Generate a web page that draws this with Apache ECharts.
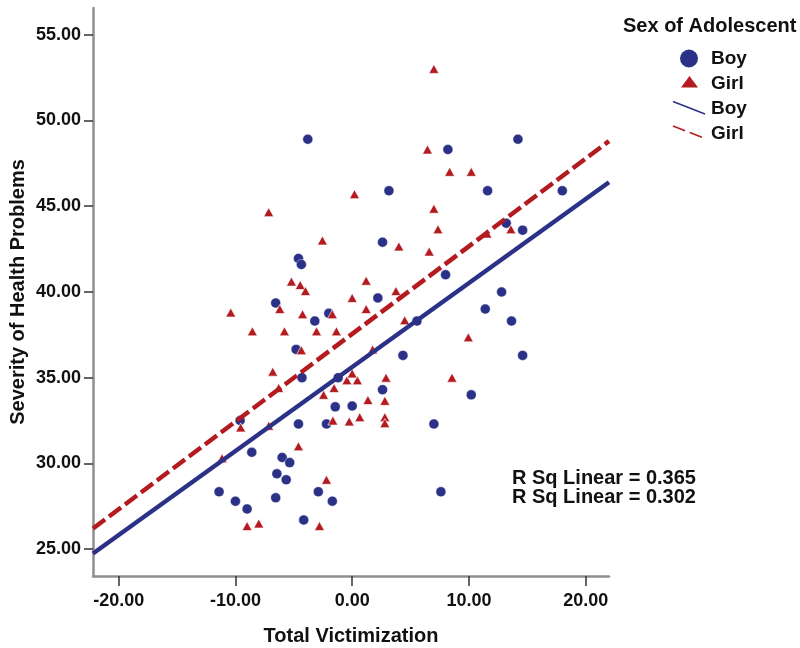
<!DOCTYPE html>
<html>
<head>
<meta charset="utf-8">
<script src="https://cdn.jsdelivr.net/npm/echarts@6/dist/echarts.min.js"></script>
<style>
html,body{margin:0;padding:0;background:#fff;}
#chart{width:800px;height:648px;}
</style>
</head>
<body>
<div id="chart"></div>
<script>
// ---- data ----
const legendTitle = 'Sex of Adolescent';
const groupNames = ['Boy', 'Girl'];
const xAxisTitle = 'Total Victimization';
const yAxisTitle = 'Severity of Health Problems';
const xTicks = [-20, -10, 0, 10, 20];
const yTicks = [25, 30, 35, 40, 45, 50, 55];
const xRange = [-22.2, 22.0];
const yRange = [23.44, 56.55];

const boyX = [-3.8, 3.15, 2.6, -4.6, -4.35, 14.2, 8.2, 11.6, 18.0, 13.2, 14.6, 8.0, 12.8, 2.2, -6.55, -3.2,
  -2.0, 11.4, 13.65, 5.55, 4.35, 14.6, -4.8, -4.3, -1.2, 2.6, 10.2, -1.45, 0.0, -4.6, -2.2, -9.6, 7.0,
  -8.6, -6.0, -5.35, -6.45, -5.65, -11.4, -2.9, 7.6, -10.0, -6.55, -1.7, -9.0, -4.15];
const boyY = [48.9, 45.9, 42.9, 41.95, 41.6, 48.9, 48.3, 45.9, 45.9, 44.0, 43.6, 41.0, 40.0, 39.65, 39.35, 38.3,
  38.75, 39.0, 38.3, 38.3, 36.3, 36.3, 36.65, 35.0, 35.0, 34.3, 34.0, 33.3, 33.35, 32.3, 32.3, 32.5, 32.3,
  30.65, 30.35, 30.05, 29.4, 29.05, 28.35, 28.35, 28.35, 27.8, 28.0, 27.8, 27.35, 26.7];

const girlX = [7.0, 6.45, 8.35, 10.2, 0.2, 7.0, -7.15, 7.35, 13.6, 11.55, -2.55, 4.0, 6.6, 1.2, -5.2, -4.45,
  -4.0, 3.75, 0.0, -6.2, 1.2, -10.4, -4.25, -1.7, 4.5, -8.55, -5.8, -3.05, -1.35, 9.95, -4.35, 1.75, -6.8,
  -0.45, 0.45, 0.0, 2.9, 8.55, -1.55, -6.3, -2.45, 1.35, 2.8, 0.65, 2.8, 2.8, -0.25, -1.65, -9.55, -7.15,
  -4.6, -11.15, -2.2, -9.0, -8.0, -2.8];
const girlY = [53.0, 48.3, 47.0, 47.0, 45.7, 44.85, 44.65, 43.65, 43.65, 43.4, 43.0, 42.65, 42.35, 40.65, 40.6, 40.4,
  40.05, 40.05, 39.65, 39.0, 39.0, 38.8, 38.7, 38.7, 38.35, 37.7, 37.7, 37.7, 37.7, 37.35, 36.6, 36.65, 35.35,
  34.85, 34.85, 35.25, 35.0, 35.0, 34.4, 34.4, 34.0, 33.7, 33.65, 32.7, 32.7, 32.35, 32.45, 32.5, 32.1, 32.2,
  31.0, 30.3, 29.05, 26.35, 26.5, 26.35];

// fit lines (intercept, slope)
const boyFit = [35.62, 0.4896];
const girlFit = [37.55, 0.511];
const rSqLabels = ['R Sq Linear = 0.365', 'R Sq Linear = 0.302'];

// ---- styles ----
const BLUE = '#2b3187';
const RED = '#b31b20';
const FONT = "'Liberation Sans', Arial, Helvetica, sans-serif";

const zip = (xs, ys) => xs.map((x, i) => [x, ys[i]]);
const fitPts = (f) => xRange.map(x => [x, f[0] + f[1] * x]);

const chart = echarts.init(document.getElementById('chart'), null, {renderer: 'canvas'});

const axisCommon = {
  axisLine: {show: true, onZero: false, lineStyle: {color: '#8f8f8f', width: 2.5}},
  splitLine: {show: false},
  nameMoveOverlap: false,
  nameTextStyle: {fontFamily: FONT, fontWeight: 'bold', fontSize: 20, color: '#111'}
};

chart.setOption({
  backgroundColor: '#fff',
  animation: false,
  grid: {left: 93, right: 191, top: 8, bottom: 72, containLabel: false, outerBoundsMode: 'none'},
  xAxis: Object.assign({}, axisCommon, {
    type: 'value', min: xRange[0], max: xRange[1],
    name: xAxisTitle, nameLocation: 'middle', nameGap: 50,
    axisTick: {show: true, inside: false, length: 10, customValues: xTicks, lineStyle: {color: '#333', width: 1.5}},
    axisLabel: {customValues: xTicks, margin: 16, fontFamily: FONT, fontWeight: 'bold', fontSize: 18, color: '#111',
      formatter: v => v.toFixed(2)}
  }),
  yAxis: Object.assign({}, axisCommon, {
    type: 'value', min: yRange[0], max: yRange[1],
    name: yAxisTitle, nameLocation: 'middle', nameGap: 65, nameRotate: 90,
    axisTick: {show: true, inside: false, length: 9, customValues: yTicks, lineStyle: {color: '#333', width: 1.5}},
    axisLabel: {customValues: yTicks, margin: 12, fontFamily: FONT, fontWeight: 'bold', fontSize: 18, color: '#111',
      formatter: v => v.toFixed(2)}
  }),
  series: [
    {
      name: groupNames[0], type: 'scatter', data: zip(boyX, boyY),
      symbol: 'circle', symbolSize: 10,
      itemStyle: {color: BLUE, borderColor: 'rgba(255,255,255,0.7)', borderWidth: 0.6, opacity: 1},
      z: 2
    },
    {
      name: groupNames[1], type: 'scatter', data: zip(girlX, girlY),
      symbol: 'triangle', symbolSize: [10, 9],
      itemStyle: {color: RED, borderColor: 'rgba(255,255,255,0.8)', borderWidth: 0.8, opacity: 1},
      z: 2
    },
    {
      name: groupNames[0] + ' fit', type: 'line', data: fitPts(boyFit), showSymbol: false, symbol: 'none',
      lineStyle: {color: BLUE, width: 4.5, type: 'solid'}, z: 3, silent: true, clip: true
    },
    {
      name: groupNames[1] + ' fit', type: 'line', data: fitPts(girlFit), showSymbol: false, symbol: 'none',
      lineStyle: {color: RED, width: 4.5, type: [15, 5]}, z: 3, silent: true, clip: true
    }
  ],
  graphic: [
    {type: 'text', left: 623, top: 16, style: {text: legendTitle, font: 'bold 20px ' + FONT, fill: '#111'}},
    {type: 'circle', shape: {cx: 689, cy: 58.5, r: 9}, style: {fill: BLUE}},
    {type: 'text', left: 711, top: 49, style: {text: groupNames[0], font: 'bold 19px ' + FONT, fill: '#111'}},
    {type: 'polygon', shape: {points: [[689.5, 76], [698, 87.5], [681, 87.5]]}, style: {fill: RED}},
    {type: 'text', left: 711, top: 74, style: {text: groupNames[1], font: 'bold 19px ' + FONT, fill: '#111'}},
    {type: 'line', shape: {x1: 673, y1: 101.5, x2: 705, y2: 114}, style: {stroke: BLUE, lineWidth: 1.5}},
    {type: 'text', left: 711, top: 99, style: {text: groupNames[0], font: 'bold 19px ' + FONT, fill: '#111'}},
    {type: 'line', shape: {x1: 673, y1: 126, x2: 705, y2: 138.5}, style: {stroke: RED, lineWidth: 1.5, lineDash: [13, 5]}},
    {type: 'text', left: 711, top: 124, style: {text: groupNames[1], font: 'bold 19px ' + FONT, fill: '#111'}},
    {type: 'text', left: 512, top: 468, style: {text: rSqLabels[0], font: 'bold 20px ' + FONT, fill: '#111'}},
    {type: 'text', left: 512, top: 487, style: {text: rSqLabels[1], font: 'bold 20px ' + FONT, fill: '#111'}}
  ]
});
</script>
</body>
</html>
